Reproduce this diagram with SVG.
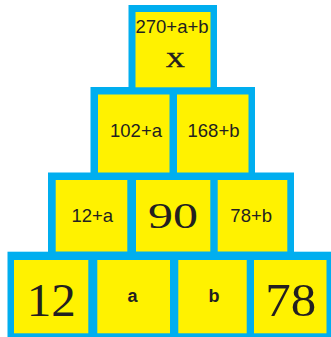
<svg xmlns="http://www.w3.org/2000/svg" width="331" height="337" viewBox="0 0 331 337">
<style>
.frame{fill:#00AEEF}
.cell{fill:#FFF200}
.s{font-family:"Liberation Sans",Arial,sans-serif;font-size:18.5px;fill:#231F20;text-anchor:middle}
.sm{font-family:"Liberation Sans",Arial,sans-serif;font-size:18px;font-weight:bold;fill:#231F20;text-anchor:middle}
.big{font-family:"Liberation Serif","Times New Roman",serif;fill:#231F20;text-anchor:middle}
</style>
<rect width="331" height="337" fill="#FFFFFF"/>
<g id="frames">
<rect class="frame" x="128.5" y="5" width="88.5" height="90"/>
<rect class="frame" x="90.5" y="87" width="164.5" height="95"/>
<rect class="frame" x="48" y="172.5" width="246" height="90"/>
<rect class="frame" x="7.5" y="251.7" width="323.5" height="85.3"/>
</g>
<g id="connectors"></g>
<g id="top">
<rect class="cell" x="135.5" y="12" width="75" height="75.3"/>
<text class="s" x="172" y="33">270+a+b</text>
<text class="big" x="175.3" y="67" font-size="22" textLength="19" lengthAdjust="spacingAndGlyphs" stroke="#231F20" stroke-width="0.6">X</text>
</g>
<g id="r2c1">
<rect class="cell" x="98" y="94.5" width="71.5" height="78"/>
<text class="s" x="136" y="136.7">102+a</text>
</g>
<g id="r2c2">
<rect class="cell" x="177" y="94.5" width="71.5" height="78"/>
<text class="s" x="213.5" y="136.7">168+b</text>
</g>
<g id="r3c1">
<rect class="cell" x="55.7" y="180" width="71.6" height="71.5"/>
<text class="s" x="92.3" y="222">12+a</text>
</g>
<g id="r3c2">
<rect class="cell" x="136" y="180" width="74.3" height="71.5"/>
<text class="big" x="173" y="228.3" font-size="35" textLength="50" lengthAdjust="spacingAndGlyphs">90</text>
</g>
<g id="r3c3">
<rect class="cell" x="217.7" y="180" width="69.6" height="71.5"/>
<text class="s" x="251.2" y="222">78+b</text>
</g>
<g id="r4c1">
<rect class="cell" x="14" y="260" width="74.3" height="73.3"/>
<text class="big" x="51.2" y="315.7" font-size="46" textLength="49" lengthAdjust="spacingAndGlyphs">12</text>
</g>
<g id="r4c2">
<rect class="cell" x="97.3" y="260" width="72.7" height="73.3"/>
<text class="sm" x="132.5" y="301.7">a</text>
</g>
<g id="r4c3">
<rect class="cell" x="178.3" y="260" width="68.4" height="73.3"/>
<text class="sm" x="214" y="301.7">b</text>
</g>
<g id="r4c4">
<rect class="cell" x="254" y="260" width="72.5" height="73.3"/>
<text class="big" x="290.8" y="315.7" font-size="46" textLength="51" lengthAdjust="spacingAndGlyphs">78</text>
</g>
</svg>
